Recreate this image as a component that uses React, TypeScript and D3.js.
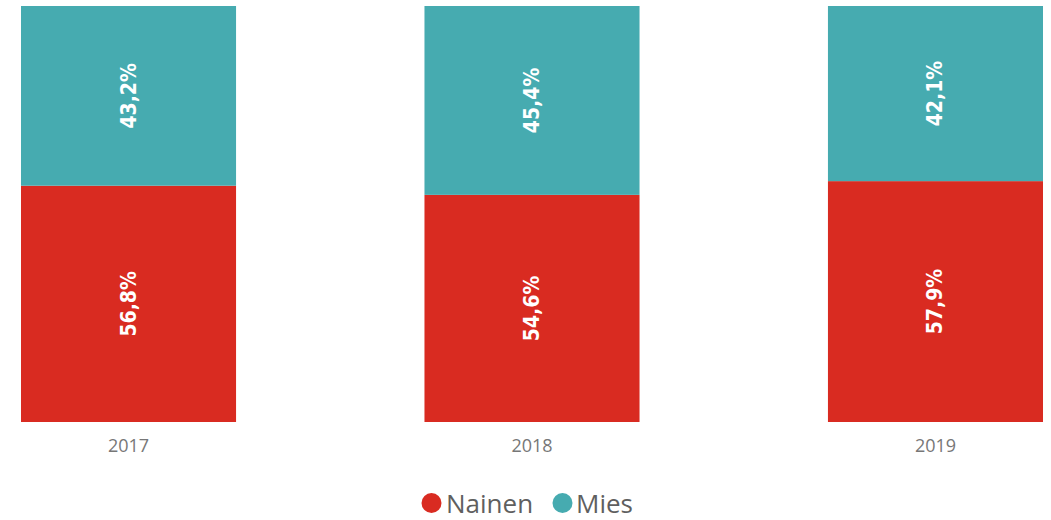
import React from "react";
import * as d3 from "d3";

const years = ["2017", "2018", "2019"];
const nainen = [56.8, 54.6, 57.9];
const mies = [43.2, 45.4, 42.1];
const seriesNames = ["Nainen", "Mies"];
const colors = ["#D92B21", "#46ABB0"];

const W = 1051;
const H = 520;

export default function App() {
  const x = d3.scaleBand().domain(years).range([21, 1043]).paddingInner(0.467).paddingOuter(0);
  const y = d3.scaleLinear().domain([0, 100]).range([422, 6]);

  const rows = years.map((yr, i) => ({ year: yr, Nainen: nainen[i], Mies: mies[i] }));
  const stacked = d3.stack<any>().keys(seriesNames)(rows);
  const fmt = (v: number) => v.toFixed(1).replace(".", ",") + "%";

  return (
    <svg width={W} height={H} style={{ position: "absolute", left: 0, top: 0 }}>
      {stacked.map((s, si) => (
        <g key={s.key}>
          {s.map((d, i) => {
            const x0 = x(years[i])!;
            const y0 = y(d[1]);
            const y1 = y(d[0]);
            const cx = x0 + x.bandwidth() / 2;
            const cy = (y0 + y1) / 2;
            return (
              <g key={i}>
                <rect x={x0} y={y0} width={x.bandwidth()} height={y1 - y0} fill={colors[si]} />
                <text
                  transform={`translate(${cx},${cy}) rotate(-90)`}
                  textAnchor="middle"
                  dominantBaseline="central"
                  fill="#fff"
                  fontFamily="'DejaVu Sans', sans-serif"
                  fontStretch="condensed"
                  fontWeight="bold"
                  fontSize={21}
                >
                  {fmt(d[1] - d[0])}
                </text>
              </g>
            );
          })}
        </g>
      ))}
      {years.map((yr) => (
        <text
          key={yr}
          x={x(yr)! + x.bandwidth() / 2}
          y={445}
          textAnchor="middle"
          dominantBaseline="central"
          fill="#777"
          fontFamily="'Open Sans', 'Noto Sans', sans-serif"
          fontSize={18}
        >
          {yr}
        </text>
      ))}
      <g fontFamily="'Open Sans', 'Noto Sans', sans-serif" fontSize={26} fill="#5f5f5f">
        <circle cx={431.5} cy={503} r={10} fill={colors[0]} />
        <text x={446} y={503} dominantBaseline="central">{seriesNames[0]}</text>
        <circle cx={562.5} cy={503} r={10} fill={colors[1]} />
        <text x={576} y={503} dominantBaseline="central">{seriesNames[1]}</text>
      </g>
    </svg>
  );
}
